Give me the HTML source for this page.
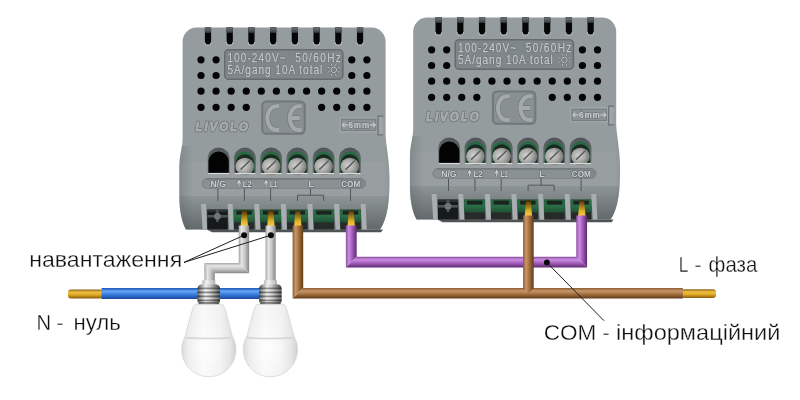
<!DOCTYPE html>
<html><head><meta charset="utf-8"><style>
html,body{margin:0;padding:0;background:#fff;}
svg{display:block;filter:blur(0.35px);}
</style></head><body>
<svg width="800" height="400" viewBox="0 0 800 400">
<defs>
<linearGradient id="gSlot" x1="0" y1="0" x2="0" y2="1"><stop offset="0" stop-color="#6f7476"/><stop offset="1" stop-color="#3b3f41"/></linearGradient>
<linearGradient id="gLow" x1="0" y1="196" x2="0" y2="232" gradientUnits="userSpaceOnUse"><stop offset="0" stop-color="#3c4245" stop-opacity="0.08"/><stop offset="1" stop-color="#3c4245" stop-opacity="0.6"/></linearGradient>
<linearGradient id="gSide" x1="170" y1="0" x2="400" y2="0" gradientUnits="userSpaceOnUse"><stop offset="0.03" stop-color="#4a5053" stop-opacity="0.3"/><stop offset="0.1" stop-color="#4a5053" stop-opacity="0"/><stop offset="0.93" stop-color="#4a5053" stop-opacity="0"/><stop offset="0.985" stop-color="#4a5053" stop-opacity="0.25"/></linearGradient>
<radialGradient id="gScrew" cx="0.4" cy="0.45" r="0.65"><stop offset="0" stop-color="#d2d2d0"/><stop offset="0.5" stop-color="#acacaa"/><stop offset="0.85" stop-color="#7e7f7e"/><stop offset="1" stop-color="#555655"/></radialGradient>
<linearGradient id="gRim" x1="0" y1="0" x2="0" y2="1"><stop offset="0" stop-color="#50565a"/><stop offset="0.4" stop-color="#5d6366"/><stop offset="1" stop-color="#666c6f"/></linearGradient>
<linearGradient id="gGreenV" x1="0" y1="0" x2="0" y2="1"><stop offset="0" stop-color="#27683f"/><stop offset="0.5" stop-color="#2a6e45"/><stop offset="1" stop-color="#1f5034"/></linearGradient>
<linearGradient id="gGreen" x1="0" y1="0" x2="1" y2="0"><stop offset="0" stop-color="#1f5a38"/><stop offset="0.25" stop-color="#2f8050"/><stop offset="0.5" stop-color="#1d3b2a"/><stop offset="0.75" stop-color="#2f8050"/><stop offset="1" stop-color="#1f5a38"/></linearGradient>
<linearGradient id="gGoldV" x1="0" y1="0" x2="0" y2="1"><stop offset="0" stop-color="#3e2e0c"/><stop offset="0.3" stop-color="#8a6414"/><stop offset="0.7" stop-color="#e2b22c"/><stop offset="1" stop-color="#f2ca44"/></linearGradient>
<linearGradient id="gGoldH" x1="0" y1="0" x2="0" y2="1"><stop offset="0" stop-color="#8a5e12"/><stop offset="0.3" stop-color="#eebe40"/><stop offset="0.6" stop-color="#e0aa26"/><stop offset="1" stop-color="#8a5a0c"/></linearGradient>
<linearGradient id="gBlueH" x1="0" y1="0" x2="0" y2="1"><stop offset="0" stop-color="#1b55b8"/><stop offset="0.3" stop-color="#66a6f4"/><stop offset="0.55" stop-color="#3a80e0"/><stop offset="1" stop-color="#1a48a0"/></linearGradient>
<linearGradient id="gBrownV" x1="0" y1="0" x2="1" y2="0"><stop offset="0" stop-color="#8a5c30"/><stop offset="0.28" stop-color="#c8966a"/><stop offset="0.55" stop-color="#a87440"/><stop offset="1" stop-color="#5e3a1a"/></linearGradient>
<linearGradient id="gBrownH" x1="0" y1="0" x2="0" y2="1"><stop offset="0" stop-color="#8a5c30"/><stop offset="0.28" stop-color="#c8966a"/><stop offset="0.55" stop-color="#a87440"/><stop offset="1" stop-color="#5e3a1a"/></linearGradient>
<linearGradient id="gPurpV" x1="0" y1="0" x2="1" y2="0"><stop offset="0" stop-color="#8d4ea0"/><stop offset="0.28" stop-color="#cc8ee2"/><stop offset="0.55" stop-color="#a862c0"/><stop offset="1" stop-color="#5c2870"/></linearGradient>
<linearGradient id="gPurpH" x1="0" y1="0" x2="0" y2="1"><stop offset="0" stop-color="#8d4ea0"/><stop offset="0.28" stop-color="#cc8ee2"/><stop offset="0.55" stop-color="#a862c0"/><stop offset="1" stop-color="#5c2870"/></linearGradient>
<linearGradient id="gGrayV" x1="0" y1="0" x2="1" y2="0"><stop offset="0" stop-color="#a4a4a4"/><stop offset="0.28" stop-color="#e6e6e6"/><stop offset="0.6" stop-color="#c6c6c6"/><stop offset="1" stop-color="#878787"/></linearGradient>
<linearGradient id="gGrayH" x1="0" y1="0" x2="0" y2="1"><stop offset="0" stop-color="#a4a4a4"/><stop offset="0.28" stop-color="#e6e6e6"/><stop offset="0.6" stop-color="#c6c6c6"/><stop offset="1" stop-color="#878787"/></linearGradient>
<linearGradient id="gMetal" x1="0" y1="0" x2="1" y2="0"><stop offset="0" stop-color="#4a4a4a"/><stop offset="0.12" stop-color="#8a8a8a"/><stop offset="0.35" stop-color="#ececec"/><stop offset="0.55" stop-color="#cacaca"/><stop offset="0.8" stop-color="#7e7e7e"/><stop offset="1" stop-color="#424242"/></linearGradient>
<linearGradient id="gCollar" x1="0" y1="0" x2="1" y2="0"><stop offset="0" stop-color="#bcbcbc"/><stop offset="0.35" stop-color="#f2f2f2"/><stop offset="1" stop-color="#b0b0b0"/></linearGradient>
<radialGradient id="gBulbR" cx="0.45" cy="0.62" r="0.55"><stop offset="0" stop-color="#ffffff" stop-opacity="0.8"/><stop offset="0.6" stop-color="#ffffff" stop-opacity="0.2"/><stop offset="1" stop-color="#ffffff" stop-opacity="0"/></radialGradient>
<linearGradient id="gBulb" x1="0" y1="0" x2="1" y2="0"><stop offset="0" stop-color="#d6d6d6"/><stop offset="0.12" stop-color="#ebebeb"/><stop offset="0.4" stop-color="#f8f8f8"/><stop offset="0.7" stop-color="#f1f1f1"/><stop offset="0.9" stop-color="#e2e2e2"/><stop offset="1" stop-color="#cecece"/></linearGradient>
<g id="dev">
<clipPath id="cBody"><path d="M182.6,41.6 A14,14 0 0 1 196.6,27.6 L371.6,27.6 A14,14 0 0 1 385.6,41.6 L385.6,135 C386.5,150 389.5,160 389.5,180 C389.5,200 388,218 380,229.6 L186,229.6 C182,222 179.3,212 179.3,195 L179.3,167 C179.3,155 182.6,148 182.6,138 Z"/></clipPath>
<path d="M182.6,41.6 A14,14 0 0 1 196.6,27.6 L371.6,27.6 A14,14 0 0 1 385.6,41.6 L385.6,135 C386.5,150 389.5,160 389.5,180 C389.5,200 388,218 380,229.6 L186,229.6 C182,222 179.3,212 179.3,195 L179.3,167 C179.3,155 182.6,148 182.6,138 Z" fill="#959c9d"/>
<g clip-path="url(#cBody)">
<rect x="170" y="162" width="230" height="34" fill="#ffffff" opacity="0.04"/>
<rect x="170" y="196" width="230" height="36" fill="url(#gLow)"/>
<rect x="170" y="146" width="230" height="86" fill="url(#gSide)"/>
</g>
<path d="M207,229.4 L383,229.4 L381,232.2 L212,232.2 Z" fill="#4e5356"/>
<path d="M204.9,27.3 L204.9,41.5 A3.1,3.1 0 0 0 211.1,41.5 L211.1,27.3 Z" fill="#060606"/>
<rect x="204.9" y="27.3" width="6.2" height="5.5" fill="url(#gSlot)"/>
<path d="M204.6,42 A3.4,3.4 0 0 0 211.4,42" fill="none" stroke="#b9bfc0" stroke-width="0.9"/>
<path d="M226.62,27.3 L226.62,41.5 A3.1,3.1 0 0 0 232.82,41.5 L232.82,27.3 Z" fill="#060606"/>
<rect x="226.62" y="27.3" width="6.2" height="5.5" fill="url(#gSlot)"/>
<path d="M226.32,42 A3.4,3.4 0 0 0 233.12,42" fill="none" stroke="#b9bfc0" stroke-width="0.9"/>
<path d="M248.34,27.3 L248.34,41.5 A3.1,3.1 0 0 0 254.54,41.5 L254.54,27.3 Z" fill="#060606"/>
<rect x="248.34" y="27.3" width="6.2" height="5.5" fill="url(#gSlot)"/>
<path d="M248.04,42 A3.4,3.4 0 0 0 254.84,42" fill="none" stroke="#b9bfc0" stroke-width="0.9"/>
<path d="M270.06,27.3 L270.06,41.5 A3.1,3.1 0 0 0 276.26,41.5 L276.26,27.3 Z" fill="#060606"/>
<rect x="270.06" y="27.3" width="6.2" height="5.5" fill="url(#gSlot)"/>
<path d="M269.76,42 A3.4,3.4 0 0 0 276.56,42" fill="none" stroke="#b9bfc0" stroke-width="0.9"/>
<path d="M291.78,27.3 L291.78,41.5 A3.1,3.1 0 0 0 297.98,41.5 L297.98,27.3 Z" fill="#060606"/>
<rect x="291.78" y="27.3" width="6.2" height="5.5" fill="url(#gSlot)"/>
<path d="M291.48,42 A3.4,3.4 0 0 0 298.28,42" fill="none" stroke="#b9bfc0" stroke-width="0.9"/>
<path d="M313.5,27.3 L313.5,41.5 A3.1,3.1 0 0 0 319.7,41.5 L319.7,27.3 Z" fill="#060606"/>
<rect x="313.5" y="27.3" width="6.2" height="5.5" fill="url(#gSlot)"/>
<path d="M313.2,42 A3.4,3.4 0 0 0 320,42" fill="none" stroke="#b9bfc0" stroke-width="0.9"/>
<path d="M335.22,27.3 L335.22,41.5 A3.1,3.1 0 0 0 341.42,41.5 L341.42,27.3 Z" fill="#060606"/>
<rect x="335.22" y="27.3" width="6.2" height="5.5" fill="url(#gSlot)"/>
<path d="M334.92,42 A3.4,3.4 0 0 0 341.72,42" fill="none" stroke="#b9bfc0" stroke-width="0.9"/>
<path d="M356.94,27.3 L356.94,41.5 A3.1,3.1 0 0 0 363.14,41.5 L363.14,27.3 Z" fill="#060606"/>
<rect x="356.94" y="27.3" width="6.2" height="5.5" fill="url(#gSlot)"/>
<path d="M356.64,42 A3.4,3.4 0 0 0 363.44,42" fill="none" stroke="#b9bfc0" stroke-width="0.9"/>
<circle cx="201" cy="59.8" r="3.6" fill="#050505"/>
<circle cx="216.08" cy="59.8" r="3.6" fill="#050505"/>
<circle cx="351.8" cy="59.8" r="3.6" fill="#050505"/>
<circle cx="366.88" cy="59.8" r="3.6" fill="#050505"/>
<circle cx="201" cy="75.5" r="3.6" fill="#050505"/>
<circle cx="216.08" cy="75.5" r="3.6" fill="#050505"/>
<circle cx="351.8" cy="75.5" r="3.6" fill="#050505"/>
<circle cx="366.88" cy="75.5" r="3.6" fill="#050505"/>
<circle cx="201" cy="91.2" r="3.6" fill="#050505"/>
<circle cx="216.08" cy="91.2" r="3.6" fill="#050505"/>
<circle cx="231.16" cy="91.2" r="3.6" fill="#050505"/>
<circle cx="246.24" cy="91.2" r="3.6" fill="#050505"/>
<circle cx="261.32" cy="91.2" r="3.6" fill="#050505"/>
<circle cx="276.4" cy="91.2" r="3.6" fill="#050505"/>
<circle cx="291.48" cy="91.2" r="3.6" fill="#050505"/>
<circle cx="306.56" cy="91.2" r="3.6" fill="#050505"/>
<circle cx="321.64" cy="91.2" r="3.6" fill="#050505"/>
<circle cx="336.72" cy="91.2" r="3.6" fill="#050505"/>
<circle cx="351.8" cy="91.2" r="3.6" fill="#050505"/>
<circle cx="366.88" cy="91.2" r="3.6" fill="#050505"/>
<circle cx="201" cy="107.3" r="3.6" fill="#050505"/>
<circle cx="216.08" cy="107.3" r="3.6" fill="#050505"/>
<circle cx="231.16" cy="107.3" r="3.6" fill="#050505"/>
<circle cx="246.24" cy="107.3" r="3.6" fill="#050505"/>
<circle cx="321.64" cy="107.3" r="3.6" fill="#050505"/>
<circle cx="336.72" cy="107.3" r="3.6" fill="#050505"/>
<circle cx="351.8" cy="107.3" r="3.6" fill="#050505"/>
<circle cx="366.88" cy="107.3" r="3.6" fill="#050505"/>
<rect x="224" y="49" width="119.5" height="31" rx="4.5" fill="#80878a"/>
<rect x="224.7" y="49.7" width="118.1" height="29.6" rx="4" fill="none" stroke="#656b6e" stroke-width="1.4"/>
<g font-family="Liberation Sans, sans-serif" font-size="12.6" fill="#666c6f" stroke="#666c6f" stroke-width="1.5" stroke-linejoin="round"><text transform="translate(227.4,61.8) scale(0.8,1)" textLength="72.75" lengthAdjust="spacing">100-240V~</text><text transform="translate(295.2,61.8) scale(0.8,1)" textLength="57" lengthAdjust="spacing">50/60Hz</text><text transform="translate(227.4,73.6) scale(0.8,1)" textLength="118.5" lengthAdjust="spacing">5A/gang 10A total</text></g>
<g font-family="Liberation Sans, sans-serif" font-size="12.6" fill="#c2c7c9" stroke="#c2c7c9" stroke-width="0.3" stroke-linejoin="round"><text transform="translate(227.4,61.8) scale(0.8,1)" textLength="72.75" lengthAdjust="spacing">100-240V~</text><text transform="translate(295.2,61.8) scale(0.8,1)" textLength="57" lengthAdjust="spacing">50/60Hz</text><text transform="translate(227.4,73.6) scale(0.8,1)" textLength="118.5" lengthAdjust="spacing">5A/gang 10A total</text></g>
<g stroke="#666c6f" stroke-width="2" fill="none"><circle cx="333.8" cy="69.8" r="2.8" fill="none"/><line x1="337.87" y1="71.48" x2="339.9" y2="72.33"/><line x1="335.48" y1="73.87" x2="336.33" y2="75.9"/><line x1="332.12" y1="73.87" x2="331.27" y2="75.9"/><line x1="329.73" y1="71.48" x2="327.7" y2="72.33"/><line x1="329.73" y1="68.12" x2="327.7" y2="67.27"/><line x1="332.12" y1="65.73" x2="331.27" y2="63.7"/><line x1="335.48" y1="65.73" x2="336.33" y2="63.7"/><line x1="337.87" y1="68.12" x2="339.9" y2="67.27"/></g>
<g stroke="#c2c7c9" stroke-width="1" fill="none"><circle cx="333.8" cy="69.8" r="2.8" fill="none"/><line x1="337.87" y1="71.48" x2="339.9" y2="72.33"/><line x1="335.48" y1="73.87" x2="336.33" y2="75.9"/><line x1="332.12" y1="73.87" x2="331.27" y2="75.9"/><line x1="329.73" y1="71.48" x2="327.7" y2="72.33"/><line x1="329.73" y1="68.12" x2="327.7" y2="67.27"/><line x1="332.12" y1="65.73" x2="331.27" y2="63.7"/><line x1="335.48" y1="65.73" x2="336.33" y2="63.7"/><line x1="337.87" y1="68.12" x2="339.9" y2="67.27"/></g>
<rect x="261.3" y="100.6" width="44.4" height="34.2" rx="5" fill="#889092"/>
<rect x="262.3" y="101.6" width="42.4" height="32.2" rx="4.2" fill="none" stroke="#72787b" stroke-width="2"/>
<path d="M279.2,106.2 L276,106.2 A8.7,11.85 0 0 0 276,129.9 L279.2,129.9 M301.7,106.2 L298.5,106.2 A8.7,11.85 0 0 0 298.5,129.9 L301.7,129.9 M290.6,118 L299.8,118" fill="none" stroke="#737a7c" stroke-width="5.4"/>
<path d="M279.2,106.2 L276,106.2 A8.7,11.85 0 0 0 276,129.9 L279.2,129.9 M301.7,106.2 L298.5,106.2 A8.7,11.85 0 0 0 298.5,129.9 L301.7,129.9 M290.6,118 L299.8,118" fill="none" stroke="#a4aaac" stroke-width="4.1"/>
<text transform="translate(195.4,130.8) scale(0.86,1)" font-family="Liberation Sans, sans-serif" font-weight="700" font-style="italic" font-size="13.4" fill="#a6acae" stroke="#6b7174" stroke-width="2.4" stroke-linejoin="round" textLength="61.16" lengthAdjust="spacing">LIVOLO</text>
<text transform="translate(195.4,130.8) scale(0.86,1)" font-family="Liberation Sans, sans-serif" font-weight="700" font-style="italic" font-size="13.4" fill="#a6acae" stroke="#a6acae" stroke-width="0.9" stroke-linejoin="round" textLength="61.16" lengthAdjust="spacing">LIVOLO</text>
<rect x="340.2" y="118" width="36.8" height="13.8" fill="#8b9295" stroke="#a8aeb0" stroke-width="1"/>
<rect x="341.4" y="119.2" width="34.4" height="11.4" fill="none" stroke="#737a7d" stroke-width="0.8"/>
<text transform="translate(348.4,128.2) scale(0.85,1)" font-family="Liberation Sans, sans-serif" font-size="9.6" font-weight="bold" fill="#c4c9cb" stroke="#6a7073" stroke-width="1.4" stroke-linejoin="round" textLength="24.47" lengthAdjust="spacing">6mm</text>
<text transform="translate(348.4,128.2) scale(0.85,1)" font-family="Liberation Sans, sans-serif" font-size="9.6" font-weight="bold" fill="#c4c9cb" stroke="#c4c9cb" stroke-width="0.25" stroke-linejoin="round" textLength="24.47" lengthAdjust="spacing">6mm</text>
<path d="M342.3,124.9 L347.8,124.9 M344.6,122.7 L342.3,124.9 L344.6,127.1 M369.8,124.9 L375.4,124.9 M373.1,122.7 L375.4,124.9 L373.1,127.1" fill="none" stroke="#c4c9cb" stroke-width="1.1"/>
<rect x="378.2" y="116.3" width="4.6" height="18.6" fill="#a0a6a8"/>
<path d="M383.2,116.2 L378,116.2 L378,134.9 L383.2,134.9" fill="none" stroke="#6d7376" stroke-width="1.3"/>
<path d="M207.75,172.9 L207.75,158.1 A10.9,10.5 0 0 1 229.55,158.1 L229.55,172.9 Z" fill="url(#gRim)"/>
<path d="M208.55,172.9 L208.55,161.7 A10.1,10.1 0 0 1 228.75,161.7 L228.75,172.9 Z" fill="#030303"/>
<rect x="208.25" y="172.9" width="20.8" height="1.2" fill="#d9ddde"/>
<path d="M234,172.9 L234,158.1 A10.9,10.5 0 0 1 255.8,158.1 L255.8,172.9 Z" fill="url(#gRim)"/>
<path d="M235.2,172.9 L235.2,161.1 A9.7,9.7 0 0 1 254.6,161.1 L254.6,172.9 Z" fill="#286a43"/>
<path d="M235.7,172.9 L235.7,163.4 A9.2,9.2 0 0 1 254.1,163.4 L254.1,172.9 Z" fill="#1a2a21"/>
<ellipse cx="244.9" cy="166.5" rx="9.4" ry="8.7" fill="url(#gScrew)"/>
<line x1="241.1" y1="169.2" x2="249.5" y2="161.2" stroke="#5e6062" stroke-width="1.7" stroke-linecap="round"/>
<line x1="241.9" y1="169.9" x2="250.3" y2="161.9" stroke="#d8d8d8" stroke-width="0.6" opacity="0.7"/>
<rect x="234.5" y="172.9" width="20.8" height="1.2" fill="#d9ddde"/>
<path d="M260.25,172.9 L260.25,158.1 A10.9,10.5 0 0 1 282.05,158.1 L282.05,172.9 Z" fill="url(#gRim)"/>
<path d="M261.45,172.9 L261.45,161.1 A9.7,9.7 0 0 1 280.85,161.1 L280.85,172.9 Z" fill="#286a43"/>
<path d="M261.95,172.9 L261.95,163.4 A9.2,9.2 0 0 1 280.35,163.4 L280.35,172.9 Z" fill="#1a2a21"/>
<ellipse cx="271.15" cy="166.5" rx="9.4" ry="8.7" fill="url(#gScrew)"/>
<line x1="267.35" y1="169.2" x2="275.75" y2="161.2" stroke="#5e6062" stroke-width="1.7" stroke-linecap="round"/>
<line x1="268.15" y1="169.9" x2="276.55" y2="161.9" stroke="#d8d8d8" stroke-width="0.6" opacity="0.7"/>
<rect x="260.75" y="172.9" width="20.8" height="1.2" fill="#d9ddde"/>
<path d="M286.5,172.9 L286.5,158.1 A10.9,10.5 0 0 1 308.3,158.1 L308.3,172.9 Z" fill="url(#gRim)"/>
<path d="M287.7,172.9 L287.7,161.1 A9.7,9.7 0 0 1 307.1,161.1 L307.1,172.9 Z" fill="#286a43"/>
<path d="M288.2,172.9 L288.2,163.4 A9.2,9.2 0 0 1 306.6,163.4 L306.6,172.9 Z" fill="#1a2a21"/>
<ellipse cx="297.4" cy="166.5" rx="9.4" ry="8.7" fill="url(#gScrew)"/>
<line x1="293.6" y1="169.2" x2="302" y2="161.2" stroke="#5e6062" stroke-width="1.7" stroke-linecap="round"/>
<line x1="294.4" y1="169.9" x2="302.8" y2="161.9" stroke="#d8d8d8" stroke-width="0.6" opacity="0.7"/>
<rect x="287" y="172.9" width="20.8" height="1.2" fill="#d9ddde"/>
<path d="M312.75,172.9 L312.75,158.1 A10.9,10.5 0 0 1 334.55,158.1 L334.55,172.9 Z" fill="url(#gRim)"/>
<path d="M313.95,172.9 L313.95,161.1 A9.7,9.7 0 0 1 333.35,161.1 L333.35,172.9 Z" fill="#286a43"/>
<path d="M314.45,172.9 L314.45,163.4 A9.2,9.2 0 0 1 332.85,163.4 L332.85,172.9 Z" fill="#1a2a21"/>
<ellipse cx="323.65" cy="166.5" rx="9.4" ry="8.7" fill="url(#gScrew)"/>
<line x1="319.85" y1="169.2" x2="328.25" y2="161.2" stroke="#5e6062" stroke-width="1.7" stroke-linecap="round"/>
<line x1="320.65" y1="169.9" x2="329.05" y2="161.9" stroke="#d8d8d8" stroke-width="0.6" opacity="0.7"/>
<rect x="313.25" y="172.9" width="20.8" height="1.2" fill="#d9ddde"/>
<path d="M339,172.9 L339,158.1 A10.9,10.5 0 0 1 360.8,158.1 L360.8,172.9 Z" fill="url(#gRim)"/>
<path d="M340.2,172.9 L340.2,161.1 A9.7,9.7 0 0 1 359.6,161.1 L359.6,172.9 Z" fill="#286a43"/>
<path d="M340.7,172.9 L340.7,163.4 A9.2,9.2 0 0 1 359.1,163.4 L359.1,172.9 Z" fill="#1a2a21"/>
<ellipse cx="349.9" cy="166.5" rx="9.4" ry="8.7" fill="url(#gScrew)"/>
<line x1="346.1" y1="169.2" x2="354.5" y2="161.2" stroke="#5e6062" stroke-width="1.7" stroke-linecap="round"/>
<line x1="346.9" y1="169.9" x2="355.3" y2="161.9" stroke="#d8d8d8" stroke-width="0.6" opacity="0.7"/>
<rect x="339.5" y="172.9" width="20.8" height="1.2" fill="#d9ddde"/>
<rect x="202" y="178.3" width="163.8" height="10.4" rx="5.2" fill="#8a9193"/>
<path d="M206,178.9 L361,178.9" stroke="#6c7275" stroke-width="1.1"/>
<path d="M206,188.4 L361,188.4" stroke="#a9afb1" stroke-width="0.8"/>
<rect x="202.4" y="178.6" width="163" height="9.8" rx="4.9" fill="none" stroke="#747a7d" stroke-width="0.8"/>
<rect x="340.3" y="178.7" width="25.2" height="9.6" rx="4.8" fill="#80878a"/>
<g font-family="Liberation Sans, sans-serif" font-size="9" font-weight="bold" fill="#cdd2d4" stroke="#5f6568" stroke-width="1.2" paint-order="stroke" stroke-linejoin="round"><text x="210.6" y="186.6" textLength="15.4" lengthAdjust="spacingAndGlyphs">N/G</text><text x="242.8" y="186.6" textLength="9.2" lengthAdjust="spacingAndGlyphs">L2</text><text x="269.9" y="186.6" textLength="7.4" lengthAdjust="spacingAndGlyphs">L1</text><text x="308.6" y="186.6">L</text><text x="341.2" y="186.6" textLength="19" lengthAdjust="spacingAndGlyphs">COM</text></g>
<path d="M239,186.6 L239,182.3 M237.4,183.4 L239,180.6 L240.6,183.4" fill="none" stroke="#5f6568" stroke-width="2.4" stroke-linejoin="round"/>
<path d="M239,186.6 L239,182.3 M237.4,183.4 L239,180.6 L240.6,183.4" fill="none" stroke="#cdd2d4" stroke-width="1.15"/>
<path d="M266.1,186.6 L266.1,182.3 M264.5,183.4 L266.1,180.6 L267.7,183.4" fill="none" stroke="#5f6568" stroke-width="2.4" stroke-linejoin="round"/>
<path d="M266.1,186.6 L266.1,182.3 M264.5,183.4 L266.1,180.6 L267.7,183.4" fill="none" stroke="#cdd2d4" stroke-width="1.15"/>
<g stroke="#51575a" stroke-width="1" fill="none"><line x1="217.9" y1="188.6" x2="217.9" y2="201"/><line x1="244.4" y1="188.6" x2="244.4" y2="201"/><line x1="270.6" y1="188.6" x2="270.6" y2="201"/><path d="M310.5,188.6 L310.5,195.2 M297.5,201 L297.5,195.2 L323.6,195.2 L323.6,201"/><line x1="350.5" y1="188.6" x2="350.5" y2="201"/></g>
<rect x="207.2" y="209.6" width="20.6" height="20" fill="#161a1a"/>
<rect x="207.2" y="209.6" width="20.6" height="2.4" fill="#2a3232"/>
<rect x="207.2" y="215" width="20.6" height="2.6" fill="#4c5355"/>
<rect x="216.1" y="210" width="2.6" height="12" fill="#4c5355"/>
<circle cx="217.4" cy="216.3" r="3.4" fill="#6f7678"/>
<rect x="233.8" y="209.6" width="20.6" height="20" fill="#262b29"/>
<rect x="233.8" y="209.6" width="20.6" height="12.8" fill="url(#gGreenV)"/>
<rect x="236.4" y="210.6" width="15.4" height="4" fill="#1b2420"/>
<rect x="260.4" y="209.6" width="20.6" height="20" fill="#262b29"/>
<rect x="260.4" y="209.6" width="20.6" height="12.8" fill="url(#gGreenV)"/>
<rect x="263" y="210.6" width="15.4" height="4" fill="#1b2420"/>
<rect x="287" y="209.6" width="20.6" height="20" fill="#262b29"/>
<rect x="287" y="209.6" width="20.6" height="12.8" fill="url(#gGreenV)"/>
<rect x="289.6" y="210.6" width="15.4" height="4" fill="#1b2420"/>
<rect x="313.6" y="209.6" width="20.6" height="20" fill="#262b29"/>
<rect x="313.6" y="209.6" width="20.6" height="12.8" fill="url(#gGreenV)"/>
<rect x="316.2" y="210.6" width="15.4" height="4" fill="#1b2420"/>
<rect x="340.2" y="209.6" width="20.6" height="20" fill="#262b29"/>
<rect x="340.2" y="209.6" width="20.6" height="12.8" fill="url(#gGreenV)"/>
<rect x="342.8" y="210.6" width="15.4" height="4" fill="#1b2420"/>
<path d="M201,204 L206,204 L207.2,229.6 L202.6,229.6 Z" fill="#a9afb0"/>
<path d="M227.6,204 L232.6,204 L233.8,229.6 L229.2,229.6 Z" fill="#a9afb0"/>
<path d="M254.2,204 L259.2,204 L260.4,229.6 L255.8,229.6 Z" fill="#a9afb0"/>
<path d="M280.8,204 L285.8,204 L287,229.6 L282.4,229.6 Z" fill="#a9afb0"/>
<path d="M307.4,204 L312.4,204 L313.6,229.6 L309,229.6 Z" fill="#a9afb0"/>
<path d="M334,204 L339,204 L340.2,229.6 L335.6,229.6 Z" fill="#a9afb0"/>
<path d="M360.6,204 L365.6,204 L366.8,229.6 L362.2,229.6 Z" fill="#a9afb0"/>
</g>
</defs>
<rect width="800" height="400" fill="#ffffff"/>

<use href="#dev"/>
<use href="#dev" transform="translate(230.6,-10)"/>
<polygon points="242,210 246.6,210 248,226 240.6,226" fill="url(#gGoldV)"/>
<polygon points="268.6,210 273.2,210 274.6,226 267.2,226" fill="url(#gGoldV)"/>
<polygon points="295.5,210 300.1,210 301.5,226 294.1,226" fill="url(#gGoldV)"/>
<polygon points="348.9,210 353.5,210 354.9,226 347.5,226" fill="url(#gGoldV)"/>
<polygon points="526.1,200 530.7,200 532.1,216 524.7,216" fill="url(#gGoldV)"/>
<polygon points="579.5,200 584.1,200 585.5,216 578.1,216" fill="url(#gGoldV)"/>
<rect x="68" y="289.4" width="35" height="9" rx="3" fill="url(#gGoldH)"/>
<rect x="101.5" y="288" width="170" height="11" fill="url(#gBlueH)"/>
<rect x="681" y="289.2" width="35" height="8.8" rx="3" fill="url(#gGoldH)"/>
<polygon points="292.6,225.6 292.6,298.6 303.2,288 303.2,225.6" fill="url(#gBrownV)"/>
<polygon points="292.6,298.6 682.9,298.6 682.9,288 303.2,288" fill="url(#gBrownH)"/>
<polygon points="345.85,225.6 345.85,267.6 356.65,256.8 356.65,225.6" fill="url(#gPurpV)"/>
<polygon points="345.85,267.6 587.05,267.6 576.25,256.8 356.65,256.8" fill="url(#gPurpH)"/>
<polygon points="587.05,267.6 587.05,215.6 576.25,215.6 576.25,256.8" fill="url(#gPurpV)"/>
<polygon points="523.1,215.6 533.7,215.6 533.7,288 528.4,293.3 523.1,288" fill="url(#gBrownV)"/>
<polygon points="238.7,225.6 238.7,262.9 249.1,273.3 249.1,225.6" fill="url(#gGrayV)"/>
<polygon points="238.7,262.9 204.4,262.9 214.8,273.3 249.1,273.3" fill="url(#gGrayH)"/>
<polygon points="204.4,262.9 204.4,281 214.8,281 214.8,273.3" fill="url(#gGrayV)"/>
<polygon points="265.5,225.6 265.5,281 275.7,281 275.7,225.6" fill="url(#gGrayV)"/>
<rect x="202.3" y="280.2" width="13" height="4.4" fill="url(#gCollar)"/>
<path d="M197.6,288 Q198,284.2 202.8,284.2 L214.8,284.2 Q219.6,284.2 220,288 L220,301.5 L218.6,304.8 L199,304.8 L197.6,301.5 Z" fill="url(#gMetal)"/>
<rect x="197.6" y="287.6" width="22.4" height="1.6" fill="#1e1e1e" opacity="0.45"/>
<rect x="197.6" y="289.8" width="22.4" height="1" fill="#ffffff" opacity="0.35"/>
<rect x="197.6" y="291.6" width="22.4" height="1.6" fill="#1e1e1e" opacity="0.45"/>
<rect x="197.6" y="293.8" width="22.4" height="1" fill="#ffffff" opacity="0.35"/>
<rect x="197.6" y="295.6" width="22.4" height="1.6" fill="#1e1e1e" opacity="0.45"/>
<rect x="197.6" y="297.8" width="22.4" height="1" fill="#ffffff" opacity="0.35"/>
<rect x="197.6" y="299.6" width="22.4" height="1.6" fill="#1e1e1e" opacity="0.45"/>
<rect x="197.6" y="301.8" width="22.4" height="1" fill="#ffffff" opacity="0.35"/>
<rect x="199" y="302" width="19.6" height="2.8" fill="#2a2a2a" opacity="0.55"/>
<path d="M196.4,304.3 L221.2,304.3 Q223.8,304.5 224.4,307.6 C226.4,313 229.8,326 232.2,336 A27.1,27.1 0 1 1 185.4,336 C187.8,326 191.2,313 193.2,307.6 Q193.8,304.5 196.4,304.3 Z" fill="url(#gBulb)" stroke="#d4d4d4" stroke-width="0.8"/>
<path d="M196.4,304.3 L221.2,304.3 Q223.8,304.5 224.4,307.6 C226.4,313 229.8,326 232.2,336 A27.1,27.1 0 1 1 185.4,336 C187.8,326 191.2,313 193.2,307.6 Q193.8,304.5 196.4,304.3 Z" fill="url(#gBulbR)"/>
<path d="M184.8,337.6 Q208.8,339.4 232.8,337.6" fill="none" stroke="#d6d6d6" stroke-width="1.6"/>
<rect x="263.9" y="280.2" width="13" height="4.4" fill="url(#gCollar)"/>
<path d="M259.2,288 Q259.6,284.2 264.4,284.2 L276.4,284.2 Q281.2,284.2 281.6,288 L281.6,301.5 L280.2,304.8 L260.6,304.8 L259.2,301.5 Z" fill="url(#gMetal)"/>
<rect x="259.2" y="287.6" width="22.4" height="1.6" fill="#1e1e1e" opacity="0.45"/>
<rect x="259.2" y="289.8" width="22.4" height="1" fill="#ffffff" opacity="0.35"/>
<rect x="259.2" y="291.6" width="22.4" height="1.6" fill="#1e1e1e" opacity="0.45"/>
<rect x="259.2" y="293.8" width="22.4" height="1" fill="#ffffff" opacity="0.35"/>
<rect x="259.2" y="295.6" width="22.4" height="1.6" fill="#1e1e1e" opacity="0.45"/>
<rect x="259.2" y="297.8" width="22.4" height="1" fill="#ffffff" opacity="0.35"/>
<rect x="259.2" y="299.6" width="22.4" height="1.6" fill="#1e1e1e" opacity="0.45"/>
<rect x="259.2" y="301.8" width="22.4" height="1" fill="#ffffff" opacity="0.35"/>
<rect x="260.6" y="302" width="19.6" height="2.8" fill="#2a2a2a" opacity="0.55"/>
<path d="M258,304.3 L282.8,304.3 Q285.4,304.5 286,307.6 C288,313 291.4,326 293.8,336 A27.1,27.1 0 1 1 247,336 C249.4,326 252.8,313 254.8,307.6 Q255.4,304.5 258,304.3 Z" fill="url(#gBulb)" stroke="#d4d4d4" stroke-width="0.8"/>
<path d="M258,304.3 L282.8,304.3 Q285.4,304.5 286,307.6 C288,313 291.4,326 293.8,336 A27.1,27.1 0 1 1 247,336 C249.4,326 252.8,313 254.8,307.6 Q255.4,304.5 258,304.3 Z" fill="url(#gBulbR)"/>
<path d="M246.4,337.6 Q270.4,339.4 294.4,337.6" fill="none" stroke="#d6d6d6" stroke-width="1.6"/>
<g stroke="#1e1e1e" stroke-width="1" fill="none"><line x1="244.1" y1="235.2" x2="184" y2="262.4"/><line x1="270.9" y1="235.2" x2="184" y2="262.4"/><line x1="546.9" y1="262.6" x2="604" y2="320.7"/></g><circle cx="244.1" cy="235.2" r="3" fill="#0a0a0a"/><circle cx="270.9" cy="235.2" r="3" fill="#0a0a0a"/><circle cx="546.9" cy="262.6" r="3" fill="#0a0a0a"/><g font-family="Liberation Sans, sans-serif" font-size="22" fill="#101010" stroke="#ffffff" stroke-width="0.3"><text x="29.2" y="267" textLength="153" lengthAdjust="spacingAndGlyphs">навантаження</text><text x="36.6" y="330" textLength="14.6" lengthAdjust="spacingAndGlyphs">N</text><text x="56.2" y="330">-</text><text x="73.4" y="330" textLength="47.4" lengthAdjust="spacingAndGlyphs">нуль</text><text x="678.8" y="271.9" textLength="9.6" lengthAdjust="spacingAndGlyphs">L</text><text x="694.2" y="271.9">-</text><text x="708.6" y="271.9" textLength="48.8" lengthAdjust="spacingAndGlyphs">фаза</text><text x="543.8" y="340" textLength="52.6" lengthAdjust="spacingAndGlyphs">COM</text><text x="602.4" y="340">-</text><text x="616" y="340" textLength="164.4" lengthAdjust="spacingAndGlyphs">інформаційний</text></g>
</svg>
</body></html>
